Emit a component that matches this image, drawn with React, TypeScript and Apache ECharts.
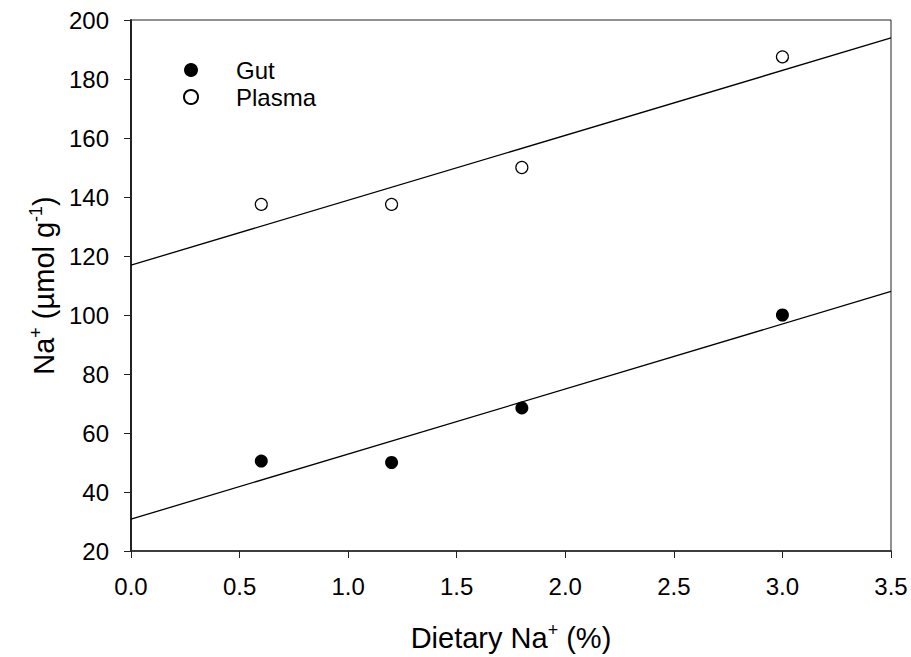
import React, { useEffect, useRef } from "react";
import * as echarts from "echarts";

const dietaryNa = [0.6, 1.2, 1.8, 3.0];
const gutValues = [50.5, 50, 68.5, 100];
const plasmaValues = [137.5, 137.5, 150, 187.5];
const gutFitLine = [
  [0, 30.8],
  [3.5, 108],
];
const plasmaFitLine = [
  [0, 116.9],
  [3.5, 193.9],
];
const seriesNames = ["Gut", "Plasma"];

const FONT = "'Liberation Sans', Arial, sans-serif";

export default function App() {
  const ref = useRef<HTMLDivElement>(null);
  useEffect(() => {
    if (!ref.current) return;
    const chart = echarts.init(ref.current, undefined, { renderer: "svg" });
    const gutData = dietaryNa.map((x, i) => [x, gutValues[i]]);
    const plasmaData = dietaryNa.map((x, i) => [x, plasmaValues[i]]);
    const titleRich = {
      n: { fontSize: 29, color: "#000", fontFamily: FONT, lineHeight: 31, verticalAlign: "bottom" },
      s: { fontSize: 18, color: "#000", fontFamily: FONT, lineHeight: 31, verticalAlign: "top" },
    };
    chart.setOption({
      animation: false,
      backgroundColor: "#fff",
      textStyle: { fontFamily: FONT },
      grid: {
        left: 131,
        right: 20,
        top: 20,
        bottom: 104,
        show: true,
        borderColor: "#222",
        borderWidth: 1,
        containLabel: false,
      },
      legend: {
        data: seriesNames,
        orient: "vertical",
        left: 178,
        top: 53,
        itemWidth: 14,
        itemHeight: 14,
        itemGap: 3,
        icon: "circle",
        textStyle: {
          fontSize: 24,
          color: "#000",
          fontFamily: FONT,
          padding: [0, 0, 0, 33],
        },
        selectedMode: false,
      },
      xAxis: {
        type: "value",
        min: 0,
        max: 3.5,
        interval: 0.5,
        name: "{n|Dietary Na}{s|+}{n| (%)}",
        nameLocation: "middle",
        nameGap: 70,
        nameTextStyle: { rich: titleRich },
        axisLine: { show: true, lineStyle: { color: "#222", width: 1.5 } },
        axisTick: { show: true, inside: false, length: 7, lineStyle: { color: "#222", width: 1 } },
        axisLabel: {
          fontSize: 24,
          color: "#000",
          margin: 23,
          fontFamily: FONT,
          formatter: (v: number) => v.toFixed(1),
        },
        splitLine: { show: false },
      },
      yAxis: {
        type: "value",
        min: 20,
        max: 200,
        interval: 20,
        name: "{n|Na}{s|+}{n| (µmol g}{s|-1}{n|)}",
        nameLocation: "middle",
        nameGap: 70,
        nameRotate: 90,
        nameTextStyle: { rich: titleRich },
        axisLine: { show: true, lineStyle: { color: "#222", width: 2 } },
        axisTick: { show: true, inside: false, length: 7, lineStyle: { color: "#222", width: 1 } },
        axisLabel: { fontSize: 24, color: "#000", margin: 22, fontFamily: FONT },
        splitLine: { show: false },
      },
      series: [
        {
          name: "Gut fit",
          type: "line",
          data: gutFitLine,
          symbol: "none",
          lineStyle: { color: "#000", width: 1.3 },
          silent: true,
          z: 1,
        },
        {
          name: "Plasma fit",
          type: "line",
          data: plasmaFitLine,
          symbol: "none",
          lineStyle: { color: "#000", width: 1.3 },
          silent: true,
          z: 1,
        },
        {
          name: "Gut",
          type: "scatter",
          data: gutData,
          symbol: "circle",
          symbolSize: 13,
          itemStyle: { color: "#000", opacity: 1 },
          z: 3,
        },
        {
          name: "Plasma",
          type: "scatter",
          data: plasmaData,
          symbol: "circle",
          symbolSize: 12,
          itemStyle: { color: "#fff", borderColor: "#000", borderWidth: 1.2, opacity: 1 },
          z: 3,
        },
      ],
    });
    return () => chart.dispose();
  }, []);
  return (
    <div
      ref={ref}
      style={{ position: "fixed", left: 0, top: 0, width: 911, height: 657 }}
    />
  );
}
